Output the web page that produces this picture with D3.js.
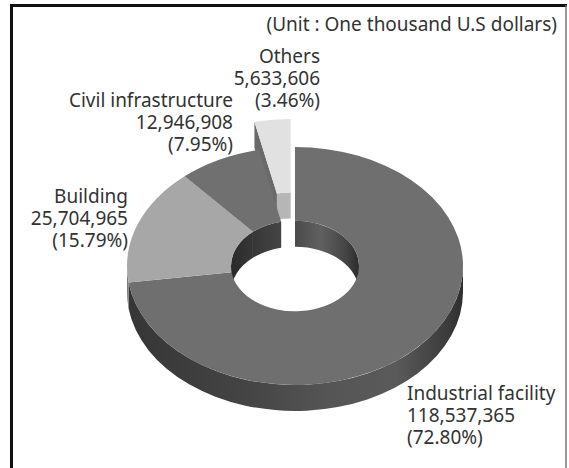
<!DOCTYPE html>
<html>
<head>
<meta charset="utf-8">
<script src="https://cdn.jsdelivr.net/npm/d3@7"></script>
<style>
  html, body { margin: 0; padding: 0; background: #fff; }
  svg { display: block; }
  text { font-family: "Noto Sans", "Open Sans", sans-serif; font-size: 19px; fill: #333; }
</style>
</head>
<body>
<div id="chart"></div>
<script>
// Construction orders by work type (unit: one thousand US dollars)
const categories = ['Industrial facility', 'Building', 'Civil infrastructure', 'Others'];
const values = [118537365, 25704965, 12946908, 5633606];
const exploded = ['Others'];
const unitLabel = '(Unit : One thousand U.S dollars)';

const W = 569, H = 468;
const svg = d3.select('#chart').append('svg').attr('width', W).attr('height', H);

// pseudo 3d donut geometry
const cx = 295, cy = 266, R = 168, Ri = 64, tilt = 0.708, depth = 26, explodeDist = 40;

const topColor = d3.scaleOrdinal().domain(categories).range(['#6f6f6f', '#a7a7a7', '#707070', '#e1e1e1']);
const sideColor = d3.scaleOrdinal().domain(categories).range(['#454545', '#7c7c7c', '#4a4a4a', '#b6b6b6']);
const faceColor = d3.scaleOrdinal().domain(categories).range(['#5a5a5a', '#8c8c8c', '#666', '#6a6a6a']);

const defs = svg.append('defs');
const outerGrad = defs.append('linearGradient').attr('id', 'outerWall')
  .attr('gradientUnits', 'userSpaceOnUse')
  .attr('x1', cx - R).attr('x2', cx + R).attr('y1', 0).attr('y2', 0);
[['0', '#363636'], ['0.35', '#444'], ['0.6', '#555'], ['0.8', '#5a5a5a'], ['0.95', '#3c3c3c'], ['1', '#2e2e2e']]
  .forEach(s => outerGrad.append('stop').attr('offset', s[0]).attr('stop-color', s[1]));
const innerGrad = defs.append('linearGradient').attr('id', 'innerWall')
  .attr('gradientUnits', 'userSpaceOnUse')
  .attr('x1', cx - Ri).attr('x2', cx + Ri).attr('y1', 0).attr('y2', 0);
[['0', '#2a2a2a'], ['0.25', '#3c3c3c'], ['0.5', '#4a4a4a'], ['0.7', '#606060'], ['0.9', '#444'], ['1', '#2c2c2c']]
  .forEach(s => innerGrad.append('stop').attr('offset', s[0]).attr('stop-color', s[1]));

const pie = d3.pie().sort(null).startAngle(0).endAngle(2 * Math.PI);
const arcs = pie(values).map((d, i) => {
  const name = categories[i];
  const mid = (d.startAngle + d.endAngle) / 2;
  const off = exploded.includes(name)
    ? [explodeDist * Math.sin(mid), -explodeDist * Math.cos(mid) * tilt]
    : [0, 0];
  return { name, value: d.value, a0: d.startAngle, a1: d.endAngle, off };
});

function pt(a, r, z, off) {
  return [cx + off[0] + r * Math.sin(a), cy + off[1] - r * Math.cos(a) * tilt + z];
}
function ellArc(a0, a1, r, z, off, sweep) {
  const p = pt(sweep ? a1 : a0, r, z, off);
  const large = Math.abs(a1 - a0) > Math.PI ? 1 : 0;
  return `A${r},${r * tilt} 0 ${large} ${sweep} ${p[0]},${p[1]}`;
}
function topPath(d) {
  const p0 = pt(d.a0, R, 0, d.off), q1 = pt(d.a1, Ri, 0, d.off);
  return `M${p0[0]},${p0[1]}` + ellArc(d.a0, d.a1, R, 0, d.off, 1) +
    `L${q1[0]},${q1[1]}` + ellArc(d.a0, d.a1, Ri, 0, d.off, 0) + 'Z';
}
function wallPath(b0, b1, r, off) {
  const p0 = pt(b0, r, 0, off), q1 = pt(b1, r, depth, off);
  return `M${p0[0]},${p0[1]}` + ellArc(b0, b1, r, 0, off, 1) +
    `L${q1[0]},${q1[1]}` + ellArc(b0, b1, r, depth, off, 0) + 'Z';
}
function facePath(a, off) {
  const o = pt(a, R, 0, off), i = pt(a, Ri, 0, off);
  return `M${o[0]},${o[1]}L${i[0]},${i[1]}L${i[0]},${i[1] + depth}L${o[0]},${o[1] + depth}Z`;
}
// visible angle ranges
function clip(d, lo, hi) {
  const b0 = Math.max(d.a0, lo), b1 = Math.min(d.a1, hi);
  return b1 > b0 ? [b0, b1] : null;
}
const frontRange = [Math.PI / 2, 3 * Math.PI / 2];
const backRanges = [[0, Math.PI / 2], [3 * Math.PI / 2, 2 * Math.PI]];

const g = svg.append('g');

function drawWalls(list) {
  list.forEach(d => {
    backRanges.forEach(rg => {
      const c = clip(d, rg[0], rg[1]);
      if (c) g.append('path').attr('d', wallPath(c[0], c[1], Ri, d.off))
        .attr('fill', exploded.includes(d.name) ? sideColor(d.name) : 'url(#innerWall)');
    });
    const c = clip(d, frontRange[0], frontRange[1]);
    if (c) g.append('path').attr('d', wallPath(c[0], c[1], R, d.off))
      .attr('fill', d.name === categories[0] ? 'url(#outerWall)' : sideColor(d.name));
  });
}

// exploded slices first: they sit further back
const ex = arcs.filter(d => exploded.includes(d.name));
const rest = arcs.filter(d => !exploded.includes(d.name));
drawWalls(ex);
ex.forEach(d => {
  if (Math.sin(d.a0) < -1e-6) g.append('path').attr('d', facePath(d.a0, d.off)).attr('fill', faceColor(d.name));
  if (Math.sin(d.a1) > 1e-6) g.append('path').attr('d', facePath(d.a1, d.off)).attr('fill', faceColor(d.name));
});
g.selectAll('path.top-ex').data(ex).enter().append('path')
  .attr('class', 'top-ex').attr('d', topPath).attr('fill', d => topColor(d.name));
drawWalls(rest);
g.selectAll('path.top').data(rest).enter().append('path')
  .attr('class', 'top').attr('d', topPath).attr('fill', d => topColor(d.name));

// labels
const fmt = d3.format(',');
const pct = d3.format('.2%');
const total = d3.sum(values);
const labelPos = {
  'Industrial facility': { x: 407, y: 400, anchor: 'start' },
  'Building': { x: 128, y: 203, anchor: 'end' },
  'Civil infrastructure': { x: 233, y: 107, anchor: 'end' },
  'Others': { x: 320, y: 63, anchor: 'end' }
};
arcs.forEach(d => {
  const p = labelPos[d.name];
  const t = svg.append('text').attr('text-anchor', p.anchor);
  [d.name, fmt(d.value), `(${pct(d.value / total)})`].forEach((s, k) => {
    t.append('tspan').attr('x', p.x).attr('y', p.y + k * 22).text(s);
  });
});

svg.append('text').attr('x', 557).attr('y', 31).attr('text-anchor', 'end').text(unitLabel);

// frame
svg.append('line').attr('x1', 11.5).attr('x2', 11.5).attr('y1', 4).attr('y2', H).attr('stroke', '#111').attr('stroke-width', 3);
svg.append('line').attr('x1', 10).attr('x2', 567).attr('y1', 5.5).attr('y2', 5.5).attr('stroke', '#111').attr('stroke-width', 3);
svg.append('line').attr('x1', 566).attr('x2', 566).attr('y1', 5).attr('y2', H).attr('stroke', '#777').attr('stroke-width', 1.5);
</script>
</body>
</html>
